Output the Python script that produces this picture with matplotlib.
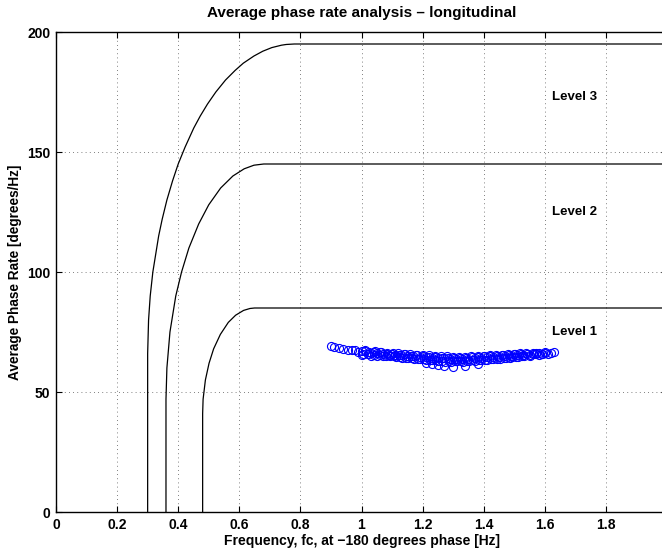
import matplotlib
matplotlib.use("Agg")
import matplotlib.pyplot as plt

plt.rcParams['font.family'] = ['Liberation Sans', 'DejaVu Sans']
plt.rcParams['font.weight'] = 'bold'

# Boundary curves
lvl3_x = [0.30, 0.30, 0.303, 0.3084, 0.317, 0.336, 0.3476, 0.363, 0.3816, 0.400, 0.4224, 0.451,
          0.4722, 0.496, 0.5232, 0.555, 0.5864, 0.613, 0.648, 0.677, 0.7064, 0.738, 0.7534, 0.78, 2.1]
lvl3_y = [0, 66, 80, 90, 100, 115, 122, 130, 138, 145, 152, 160,
          165, 170, 175, 180, 184, 187, 190, 192, 193.5, 194.5, 194.8, 195, 195]
lvl2_x = [0.36, 0.36, 0.363, 0.373, 0.392, 0.411, 0.435, 0.467, 0.500, 0.539, 0.579, 0.616, 0.648, 0.68, 2.1]
lvl2_y = [0, 47, 60, 75, 90, 100, 110, 120, 128, 135, 140, 143, 144.5, 145, 145]
lvl1_x = [0.48, 0.48, 0.4815, 0.489, 0.501, 0.516, 0.538, 0.564, 0.588, 0.614, 0.635, 0.65, 2.1]
lvl1_y = [0, 41, 47, 55, 62, 68, 74, 79, 82, 84, 84.8, 85, 85]

# Measured points
pts_x = [0.90, 0.91, 0.925, 0.94, 0.955, 0.97, 0.98, 0.99, 1.00, 1.005, 1.01, 1.02, 1.025, 1.03,
         1.04, 1.045, 1.05, 1.06, 1.065, 1.07, 1.08, 1.085, 1.09, 1.10, 1.105, 1.11, 1.12, 1.125,
         1.13, 1.14, 1.145, 1.15, 1.16, 1.165, 1.17, 1.18, 1.185, 1.19, 1.20, 1.205, 1.21, 1.22,
         1.225, 1.23, 1.24, 1.245, 1.25, 1.26, 1.265, 1.27, 1.28, 1.285, 1.29, 1.30, 1.305, 1.31,
         1.32, 1.325, 1.33, 1.34, 1.345, 1.35, 1.36, 1.365, 1.37, 1.38, 1.385, 1.39, 1.40, 1.405,
         1.41, 1.42, 1.425, 1.43, 1.44, 1.445, 1.45, 1.46, 1.465, 1.47, 1.48, 1.485, 1.49, 1.50,
         1.505, 1.51, 1.52, 1.525, 1.53, 1.54, 1.55, 1.56, 1.57, 1.58, 1.59, 1.60, 1.61, 1.62, 1.63,
         1.21, 1.23, 1.25, 1.27, 1.30, 1.34, 1.38,
         1.002, 1.012, 1.022, 1.032, 1.042, 1.052, 1.062, 1.072, 1.082, 1.092, 1.102, 1.112, 1.122,
         1.132, 1.142, 1.152, 1.162, 1.172, 1.182, 1.192, 1.202, 1.212, 1.222, 1.232, 1.242, 1.252,
         1.262, 1.272, 1.282, 1.292, 1.302, 1.312, 1.322, 1.332, 1.342, 1.352, 1.362, 1.372, 1.382,
         1.392, 1.402, 1.412, 1.422, 1.432, 1.442, 1.452, 1.462, 1.472, 1.482, 1.492, 1.502, 1.512,
         1.522, 1.532, 1.542, 1.552, 1.562, 1.572, 1.582, 1.592, 1.602]
pts_y = [69.3, 68.9, 68.4, 68.0, 67.7, 67.3, 67.6, 66.5, 67.2, 66.0, 66.9, 65.8, 66.7, 66.3,
         65.5, 67.0, 66.1, 65.3, 66.6, 65.9, 64.9, 66.4, 65.6, 66.0, 64.8, 65.4, 66.2, 64.6,
         65.3, 65.9, 64.3, 65.1, 65.8, 64.2, 64.9, 65.6, 63.9, 64.7, 65.4, 63.7, 64.5, 65.3,
         63.5, 64.3, 65.1, 63.3, 64.1, 64.9, 63.1, 64.0, 64.8, 62.9, 63.9, 64.7, 63.0, 63.8,
         64.6, 63.1, 63.7, 64.7, 62.9, 63.9, 64.8, 63.2, 64.0, 65.0, 63.3, 64.2, 65.1, 63.5,
         64.4, 65.3, 63.6, 64.5, 65.5, 63.9, 64.7, 65.6, 64.1, 64.9, 65.8, 64.3, 65.1, 66.0,
         64.5, 65.3, 66.1, 64.8, 65.5, 66.2, 65.2, 65.8, 66.4, 65.6, 66.0, 66.6, 65.9, 66.3, 66.5,
         62.2, 61.5, 61.3, 60.8, 60.6, 61.0, 61.6,
         65.6, 67.4, 66.0, 65.2, 66.8, 65.0, 66.5, 64.8, 66.0, 65.0, 66.4, 64.5, 65.6,
         64.2, 65.9, 64.0, 65.2, 63.9, 65.4, 63.6, 64.9, 63.4, 64.7, 63.2, 64.5, 62.8,
         64.3, 62.7, 64.1, 62.6, 64.0, 62.8, 64.3, 62.7, 64.2, 62.9, 64.5, 63.0, 64.6,
         63.2, 64.8, 63.4, 64.9, 63.7, 65.0, 63.9, 65.3, 64.2, 65.5, 64.5, 65.7, 64.7,
         65.9, 65.0, 66.0, 65.4, 66.2, 65.7, 66.4, 65.8, 66.2]

level_labels = ["Level 3", "Level 2", "Level 1"]
level_label_y = [173, 125, 75]
x_ticks = [0, 0.2, 0.4, 0.6, 0.8, 1, 1.2, 1.4, 1.6, 1.8, 2]
x_tick_labels = ['0', '0.2', '0.4', '0.6', '0.8', '1', '1.2', '1.4', '1.6', '1.8', '']
y_ticks = [0, 50, 100, 150, 200]

fig = plt.figure(figsize=(6.62, 5.56), dpi=100)
ax = fig.add_axes([56/662, 44/556, 611/662, 480/556])

ax.plot(lvl3_x, lvl3_y, color='black', lw=0.9)
ax.plot(lvl2_x, lvl2_y, color='black', lw=0.9)
ax.plot(lvl1_x, lvl1_y, color='black', lw=0.9)
ax.plot(pts_x, pts_y, 'o', mfc='none', mec='blue', ms=5.8, mew=0.8)

for lab, yy in zip(level_labels, level_label_y):
    ax.text(1.625, yy, lab, fontsize=9.5, fontweight='bold', va='center', ha='left')

ax.set_xlim(0, 2)
ax.set_ylim(0, 200)
ax.set_xticks(x_ticks)
ax.set_xticklabels(x_tick_labels)
ax.set_yticks(y_ticks)
ax.grid(True, linestyle=(0, (1, 4)), color='#555555', lw=0.6)
ax.tick_params(direction='in', top=True, right=True, labelsize=10, length=4, width=0.8, pad=4)
for lab in ax.get_xticklabels() + ax.get_yticklabels():
    lab.set_fontweight('bold')
for s in ax.spines.values():
    s.set_linewidth(1.0)

ax.set_title('Average phase rate analysis \u2013 longitudinal', fontsize=11, fontweight='bold', pad=11)
ax.set_xlabel('Frequency, fc, at \u2212180 degrees phase [Hz]', fontsize=10, fontweight='bold', labelpad=2)
ax.set_ylabel('Average Phase Rate [degrees/Hz]', fontsize=9.8, fontweight='bold', labelpad=4)

fig.savefig('out.png', dpi=100)
